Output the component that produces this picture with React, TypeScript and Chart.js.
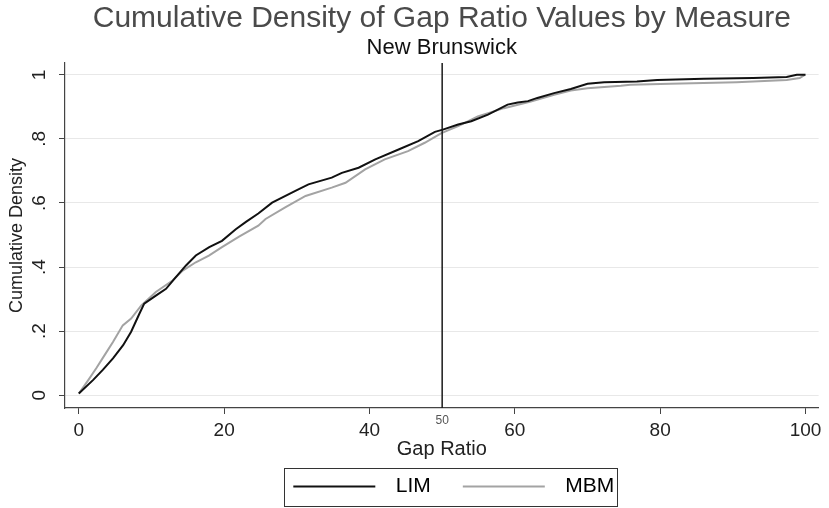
import { useEffect, useRef } from 'react';
import { Chart, registerables } from 'chart.js';

Chart.register(...registerables);

const FONT = "'Liberation Sans', Arial, Helvetica, sans-serif";
Chart.defaults.font.family = FONT;

// values
const limGap = [0, 1.95, 3.3, 4.7, 6.1, 7.2, 8.35, 9.0, 10.6, 12.0, 13.15, 14.75, 16.1, 17.95, 19.7, 21.6, 23.0, 24.7, 26.6, 29.8, 31.6, 34.8, 36.2, 38.5, 40.8, 44.0, 46.7, 49.0, 50.1, 52.2, 54.0, 56.3, 59.0, 60.4, 61.8, 63.1, 65.4, 67.7, 70.0, 72.3, 76.8, 79.6, 86.0, 92.8, 97.4, 98.8, 100];
const limCum = [0.005, 0.047, 0.079, 0.115, 0.156, 0.198, 0.255, 0.286, 0.311, 0.332, 0.363, 0.405, 0.436, 0.462, 0.482, 0.518, 0.541, 0.567, 0.601, 0.638, 0.658, 0.679, 0.694, 0.71, 0.736, 0.767, 0.793, 0.822, 0.829, 0.845, 0.855, 0.876, 0.907, 0.914, 0.918, 0.928, 0.943, 0.956, 0.972, 0.977, 0.979, 0.984, 0.988, 0.99, 0.993, 1.0, 1.0];

const mbmGap = [0, 1.3, 2.4, 3.55, 4.7, 6.05, 7.2, 8.6, 10.6, 12.9, 14.3, 16.1, 17.9, 19.7, 22.05, 24.7, 25.7, 28.4, 31.2, 34.8, 36.7, 39.4, 42.1, 45.3, 47.6, 49.9, 52.2, 54.9, 58.5, 62.2, 65.4, 67.7, 70.0, 74.6, 75.9, 81.4, 90.5, 97.4, 99.2, 99.9];
const mbmCum = [0.005, 0.047, 0.084, 0.125, 0.166, 0.218, 0.239, 0.28, 0.322, 0.358, 0.389, 0.415, 0.436, 0.462, 0.495, 0.529, 0.55, 0.586, 0.622, 0.648, 0.663, 0.705, 0.736, 0.762, 0.788, 0.818, 0.84, 0.87, 0.896, 0.917, 0.938, 0.951, 0.958, 0.966, 0.969, 0.972, 0.977, 0.984, 0.99, 1.0];

const seriesNames = ['LIM', 'MBM'];
const seriesColors = ['#111111', '#a3a3a3'];

const xTicks = [0, 20, 40, 60, 80, 100];
const yTicks = [0, 0.2, 0.4, 0.6, 0.8, 1];
const yTickLabels = ['0', '.2', '.4', '.6', '.8', '1'];
const cutoff = 50;

// legend swatch: blank space on the left, then the line
const SWATCH_W = 116;
const SWATCH_GAP = 24;
function legendSwatch(color: string) {
  const c = document.createElement('canvas');
  c.width = SWATCH_W;
  c.height = 4;
  const g = c.getContext('2d')!;
  g.strokeStyle = color;
  g.lineWidth = 2;
  g.beginPath();
  g.moveTo(SWATCH_GAP, 2);
  g.lineTo(SWATCH_GAP + 82, 2);
  g.stroke();
  return c;
}

// centre titles and legend on the plot area, like Stata does
const centerBoxes = {
  id: 'centerBoxes',
  afterLayout(chart: any) {
    const { left, right } = chart.chartArea;
    chart.boxes.forEach((b: any) => {
      if (!b.axis && (b.position === 'top' || b.position === 'bottom')) {
        b.left = left;
        b.right = right;
      }
    });
  },
};

const cutoffLine = {
  id: 'cutoffLine',
  afterDatasetsDraw(chart: any) {
    const { ctx, chartArea, scales } = chart;
    const x = scales.x.getPixelForValue(cutoff);
    ctx.save();
    ctx.strokeStyle = '#1a1a1a';
    ctx.lineWidth = 1.5;
    ctx.beginPath();
    ctx.moveTo(x, chartArea.top);
    ctx.lineTo(x, chartArea.bottom);
    ctx.stroke();
    ctx.fillStyle = '#555';
    ctx.font = `12px ${FONT}`;
    ctx.textAlign = 'center';
    ctx.textBaseline = 'middle';
    ctx.fillText(String(cutoff), x, chartArea.bottom + 13);
    ctx.restore();
  },
};

const legendFrame = {
  id: 'legendFrame',
  afterDraw(chart: any) {
    const lg = chart.legend;
    const hb = lg?.legendHitBoxes;
    if (!hb || !hb.length) return;
    const last = hb[hb.length - 1];
    const x0 = Math.round(hb[0].left + SWATCH_GAP - 9) + 0.5;
    const x1 = Math.round(last.left + last.width + 3) + 0.5;
    const ctx = chart.ctx;
    ctx.save();
    ctx.strokeStyle = '#333';
    ctx.lineWidth = 1;
    ctx.strokeRect(x0, Math.round(lg.top) + 0.5, x1 - x0, Math.round(lg.bottom - lg.top) - 1);
    ctx.restore();
  },
};

export default function App() {
  const canvasRef = useRef<HTMLCanvasElement>(null);

  useEffect(() => {
    if (!canvasRef.current) return;
    const swatches = seriesColors.map(legendSwatch);

    const chart = new Chart(canvasRef.current, {
      type: 'line',
      data: {
        datasets: [
          {
            label: seriesNames[0],
            data: limGap.map((x, i) => ({ x, y: limCum[i] })),
            borderColor: seriesColors[0],
            borderWidth: 2,
            pointRadius: 0,
            tension: 0,
          },
          {
            label: seriesNames[1],
            data: mbmGap.map((x, i) => ({ x, y: mbmCum[i] })),
            borderColor: seriesColors[1],
            borderWidth: 2,
            pointRadius: 0,
            tension: 0,
          },
        ],
      },
      options: {
        responsive: false,
        animation: false,
        events: [],
        layout: { padding: { left: 0, right: 7, top: 0, bottom: 1 } },
        plugins: {
          title: {
            display: true,
            text: 'Cumulative Density of Gap Ratio Values by Measure',
            color: '#4a4a4a',
            font: { size: 30, weight: 'normal', lineHeight: 1.1 },
            padding: { top: 2, bottom: 0 },
          },
          subtitle: {
            display: true,
            text: 'New Brunswick',
            color: '#111',
            font: { size: 22, weight: 'normal', lineHeight: 1.2 },
            padding: { top: 0, bottom: 1.6 },
          },
          legend: {
            position: 'bottom',
            labels: {
              usePointStyle: true,
              pointStyleWidth: SWATCH_W,
              padding: 8,
              color: '#111',
              font: { size: 21 },
              generateLabels: (c: any) =>
                c.data.datasets.map((d: any, i: number) => ({
                  text: d.label,
                  pointStyle: swatches[i],
                  fillStyle: seriesColors[i],
                  strokeStyle: seriesColors[i],
                  lineWidth: 0,
                  hidden: false,
                  datasetIndex: i,
                })),
            },
          },
          tooltip: { enabled: false },
        },
        scales: {
          x: {
            type: 'linear',
            min: -1.9,
            max: 101.8,
            afterBuildTicks: (s: any) => {
              s.ticks = xTicks.map((v) => ({ value: v }));
            },
            ticks: {
              color: '#222',
              font: { size: 19, lineHeight: 1 },
              padding: 7.5,
              maxRotation: 0,
              autoSkip: false,
            },
            grid: {
              drawOnChartArea: false,
              drawTicks: true,
              tickLength: 6,
              tickColor: '#444',
              tickWidth: 1,
            },
            border: { color: '#444', width: 1.2 },
            title: {
              display: true,
              text: 'Gap Ratio',
              color: '#222',
              font: { size: 20, lineHeight: 1 },
              padding: { top: -9, bottom: 9 },
            },
          },
          y: {
            type: 'linear',
            min: -0.04,
            max: 1.037,
            afterBuildTicks: (s: any) => {
              s.ticks = yTicks.map((v) => ({ value: v }));
            },
            ticks: {
              color: '#222',
              font: { size: 19, lineHeight: 1 },
              padding: 11,
              minRotation: 90,
              maxRotation: 90,
              crossAlign: 'center',
              callback: (v: any) => yTickLabels[yTicks.indexOf(Number(v))] ?? '',
            },
            grid: {
              color: '#e8e8e8',
              lineWidth: 1,
              drawTicks: true,
              tickLength: 6,
              tickColor: '#444',
              tickWidth: 1,
            },
            border: { color: '#444', width: 1.2 },
            title: {
              display: true,
              text: 'Cumulative Density',
              color: '#222',
              font: { size: 18, lineHeight: 1 },
              padding: { top: 8, bottom: -8 },
            },
          },
        },
      } as any,
      plugins: [centerBoxes, cutoffLine, legendFrame],
    });

    return () => chart.destroy();
  }, []);

  return (
    <div style={{ position: 'absolute', left: 0, top: 0, width: 829, height: 508, background: '#fff' }}>
      <canvas ref={canvasRef} width={829} height={508} />
    </div>
  );
}
